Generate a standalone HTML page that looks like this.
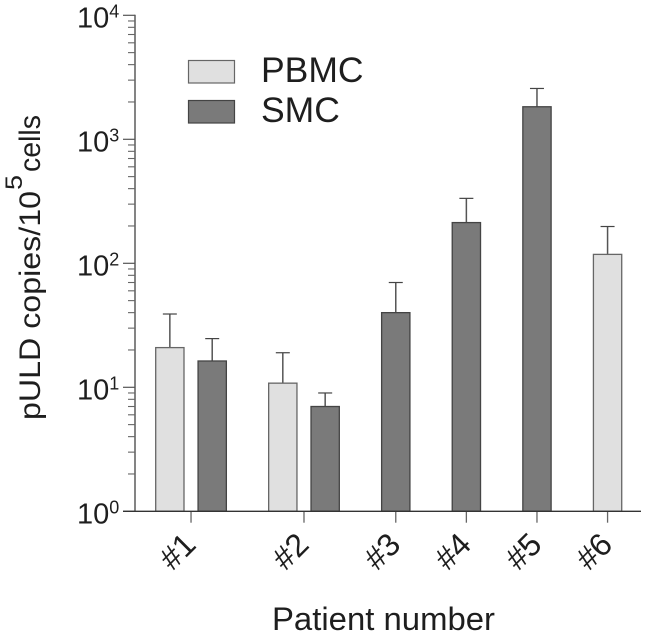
<!DOCTYPE html>
<html>
<head>
<meta charset="utf-8">
<style>
html,body{margin:0;padding:0;background:#fff;}
svg{display:block;}
text{font-family:"Liberation Sans",sans-serif;fill:#1e1e1e;}
</style>
</head>
<body>
<svg id="chart" xmlns="http://www.w3.org/2000/svg" width="647" height="635" viewBox="0 0 647 635">
  <g id="grid-layer"></g>
  <g>
    <text transform="translate(40,420) rotate(-90)" font-size="30" textLength="229" lengthAdjust="spacingAndGlyphs">pULD copies/10</text>
    <text transform="translate(22,190) rotate(-90)" font-size="24" textLength="15" lengthAdjust="spacingAndGlyphs">5</text>
    <text transform="translate(40,172) rotate(-90)" font-size="30" textLength="57" lengthAdjust="spacingAndGlyphs">cells</text>
  </g>
  <text x="272" y="630" font-size="32" textLength="223" lengthAdjust="spacingAndGlyphs">Patient number</text>
  <g>
    <rect x="188.5" y="60.5" width="46" height="22.5" fill="#e0e0e0" stroke="#666" stroke-width="1.2"/>
    <text x="261" y="82" font-size="35.5">PBMC</text>
    <rect x="188.5" y="100.5" width="46" height="22.5" fill="#7a7a7a" stroke="#444" stroke-width="1.2"/>
    <text x="261" y="122" font-size="35.5">SMC</text>
  </g>
</svg>
<script>
const patients = ['#1', '#2', '#3', '#4', '#5', '#6'];
const pbmcValues = [20.9, 10.8, null, null, null, 118];
const pbmcErrorTops = [39, 19, null, null, null, 198];
const smcValues = [16.3, 7, 40, 213, 1830, null];
const smcErrorTops = [24.7, 9, 70, 334, 2570, null];
const yTickExponents = [0, 1, 2, 3, 4];

const svg = document.getElementById('grid-layer');
const NS = 'http://www.w3.org/2000/svg';
const yBase = 511.3, decadeHeight = 124, axisX = 135;
const barWidth = 28.3, unit = 14.12, firstBarX = 155.7;

function y(v) { return yBase - Math.log10(v) * decadeHeight; }
function barSlotX(slot) { return firstBarX + slot * unit; }

function make(tag, attrs) {
  const el = document.createElementNS(NS, tag);
  for (const k in attrs) el.setAttribute(k, attrs[k]);
  svg.appendChild(el);
  return el;
}

function drawBar(x, value, errTop, fill, stroke, name) {
  const cx = x + barWidth / 2;
  const err = make('line', {x1: cx, x2: cx, y1: y(errTop), y2: y(value), stroke: '#555', 'stroke-width': 1.5});
  
  
  const cap = make('line', {x1: cx - 7, x2: cx + 7, y1: y(errTop), y2: y(errTop), stroke: '#444', 'stroke-width': 1.2});
  
  
  const bar = make('rect', {x: x, y: y(value), width: barWidth, height: yBase - y(value), fill: fill, stroke: stroke, 'stroke-width': 1.3});
  
  
}

// y axis
const yAxis = make('line', {x1: axisX, x2: axisX, y1: y(10000) - 0.6, y2: yBase, stroke: '#777', 'stroke-width': 1.8});



yTickExponents.forEach(function (e) {
  const major = Math.pow(10, e);
  const t = make('line', {x1: 123, x2: axisX, y1: y(major), y2: y(major), stroke: '#555', 'stroke-width': 1.2});
  
  
  if (e < yTickExponents[yTickExponents.length - 1]) {
    for (let m = 2; m <= 9; m++) {
      const mt = make('line', {x1: 128, x2: axisX, y1: y(major * m), y2: y(major * m), stroke: '#666', 'stroke-width': 1.1});
      
      
    }
  }
  const lbl = make('text', {x: 77, y: y(major) + 12, 'font-size': 29});
  
  
  lbl.textContent = '10';
  const sup = document.createElementNS(NS, 'tspan');
  sup.setAttribute('font-size', 18);
  sup.setAttribute('dy', -10);
  sup.textContent = String(e);
  lbl.appendChild(sup);
});

// bars, laid out from the data: 3 units between bars in a pair, 5 between groups
let slot = 0;
patients.forEach(function (p, i) {
  const first = slot;
  let last = slot;
  if (pbmcValues[i] !== null) {
    drawBar(barSlotX(slot), pbmcValues[i], pbmcErrorTops[i], '#e0e0e0', '#666', 'bar-pbmc-' + (i + 1));
    last = slot;
    slot += 3;
  }
  if (smcValues[i] !== null) {
    drawBar(barSlotX(slot), smcValues[i], smcErrorTops[i], '#7a7a7a', '#444', 'bar-smc-' + (i + 1));
    last = slot;
    slot += 3;
  }
  slot += 2;
  const cx = (barSlotX(first) + barSlotX(last)) / 2 + barWidth / 2;
  const tick = make('line', {x1: cx, x2: cx, y1: yBase, y2: 522.7, stroke: '#666', 'stroke-width': 1.3});
  
  
  const lbl = make('text', {transform: 'translate(' + (cx - 6) + ',559) rotate(-45)', 'text-anchor': 'middle', 'font-size': 32});
  
  
  lbl.textContent = p;
});

// x axis
const xAxis = make('line', {x1: 123, x2: 641, y1: yBase, y2: yBase, stroke: '#333', 'stroke-width': 1.3});


</script>
</body>
</html>
